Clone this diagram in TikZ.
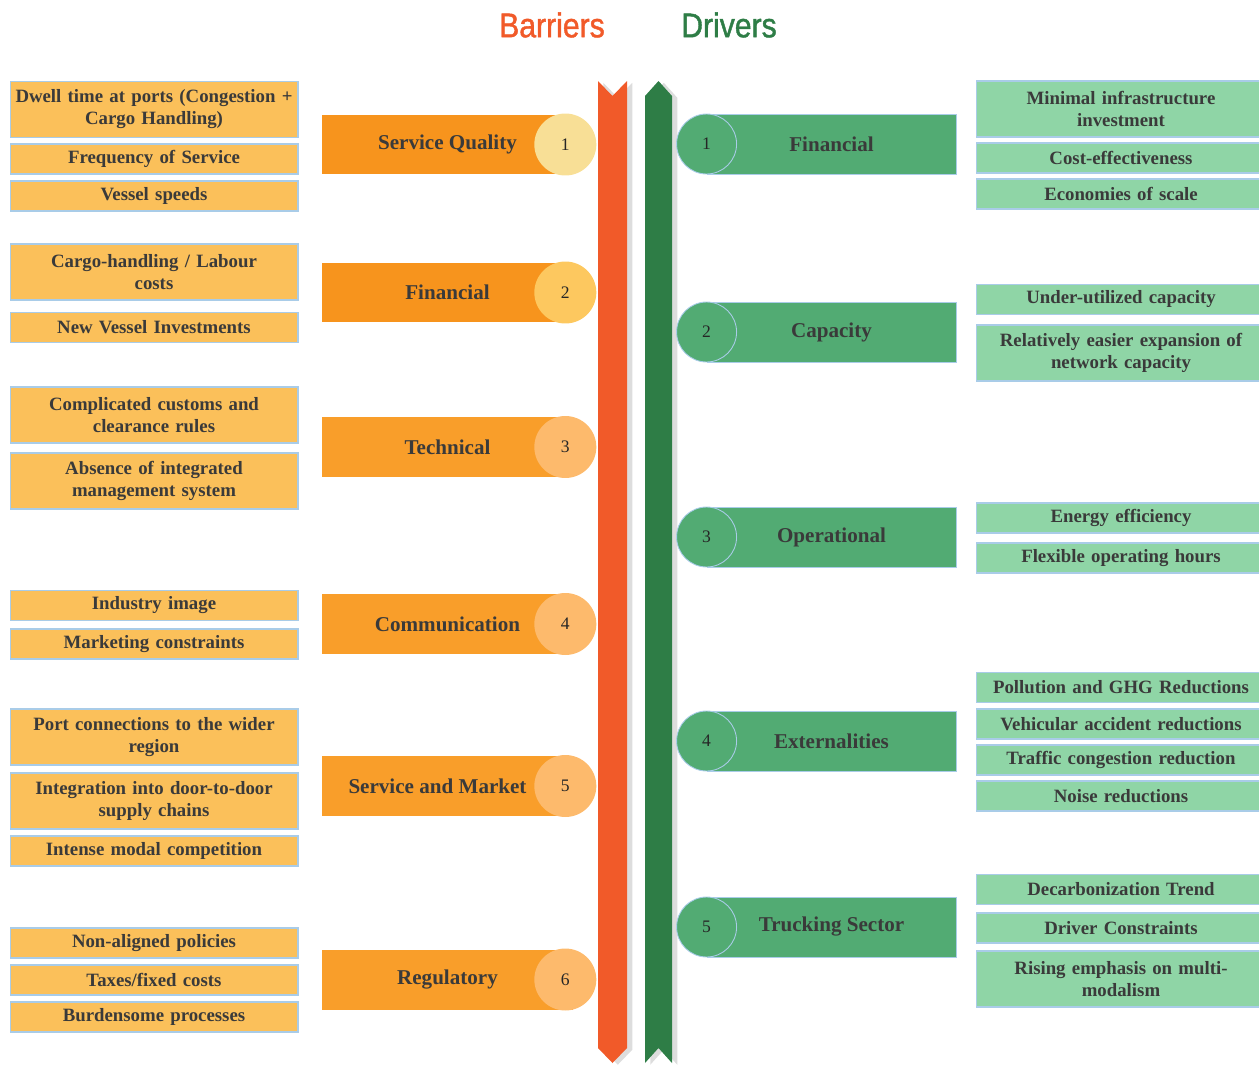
\documentclass[tikz,border=0pt]{standalone}
\usepackage{fontspec}
\setmainfont{Liberation Serif}
\newfontfamily\titlefont[FakeStretch=0.88, FakeBold=1.2]{Liberation Sans}
\usetikzlibrary{positioning, shadows}

\definecolor{barred}{HTML}{F15A29}
\definecolor{drivgreen}{HTML}{2E7D46}
\definecolor{orA}{HTML}{F7941D}
\definecolor{orB}{HTML}{F99E2A}
\definecolor{circA}{HTML}{F8DF96}
\definecolor{circB}{HTML}{FDC85F}
\definecolor{circC}{HTML}{FDBA6C}
\definecolor{leftfill}{HTML}{FBC05A}
\definecolor{rightfill}{HTML}{8FD5A6}
\definecolor{drivfill}{HTML}{52AB73}
\definecolor{edgeblue}{HTML}{A9CCE8}
\definecolor{txtgray}{HTML}{3A3A3A}

\begin{document}
\begin{tikzpicture}[x=0.02cm, y=-0.02cm,
    lbox/.style={rectangle,
        draw=edgeblue, % Box edge.
        line width=0.6pt,
        fill=leftfill, % Box fill.
        text=txtgray,
        inner sep=0pt,
        minimum width=5.76cm,
        text width=5.74cm,
        align=center,
        font=\bfseries\fontsize{10.7}{12.5}\selectfont},
    rbox/.style={lbox, fill=rightfill, minimum width=5.8cm},
    barbox/.style={rectangle,
        inner sep=0pt,
        minimum width=5.02cm,
        minimum height=1.2cm,
        text=txtgray,
        font=\bfseries\fontsize{12}{14}\selectfont},
    drivbox/.style={barbox, fill=drivfill, draw=edgeblue, line width=0.5pt,
        minimum width=4.98cm},
    numcirc/.style={circle,
        inner sep=0pt,
        minimum size=1.24cm,
        text=black!85,
        font=\fontsize{10}{11}\selectfont},
    ribbon/.style={drop shadow={shadow xshift=3pt, shadow yshift=-1pt,
        opacity=0.22, fill=black!60}},
    title/.style={font=\titlefont\fontsize{19.5}{22}\selectfont}]

        \useasboundingbox (0,0) rectangle (1259,1065);

        % Titles.
        \node[title, text=barred] (barriers) at (552,25) {Barriers};
        \node[title, text=drivgreen] (drivers) at (729,25) {Drivers};

        % Ribbons.
        \fill[barred, ribbon] (598,81) -- (612.5,96) -- (627,81) -- (627,1048)
            -- (612.5,1063) -- (598,1048) -- cycle;
        \fill[drivgreen, ribbon] (645,96) -- (658.5,81) -- (672,96) -- (672,1063)
            -- (658.5,1048) -- (645,1063) -- cycle;

        % Barrier categories.
        \foreach \name/\yc/\txt/\bar/\circ/\n in {bqual/144.5/Service Quality/orA/circA/1,
            bfin/292.5/Financial/orA/circB/2, btech/447/Technical/orB/circC/3,
            bcomm/624/Communication/orB/circC/4,
            bserv/786/{Service and Market\hspace*{0.4cm}}/orB/circC/5,
            breg/979.5/Regulatory/orB/circC/6}
        {
        \node[barbox, fill=\bar] (\name) at (447.5,\yc) {\txt};
        \node[numcirc, fill=\circ] (\name-num) at ([xshift=-0.16cm]\name.east) {\n};
        }

        % Driver categories.
        \foreach \name/\yc/\txt/\n in {dfin/144/Financial/1, dcap/332/Capacity/2,
            dop/537/Operational/3, dext/741/Externalities/4, dtruck/927/Trucking Sector/5}
        {
        \node[drivbox] (\name) at (831.5,\yc) {\txt};
        \node[numcirc, fill=drivfill, draw=edgeblue, line width=0.5pt, minimum size=1.2cm]
            (\name-num) at (\name.west) {\n};
        }

        % Barrier items.
        \foreach \name/\yc/\h/\txt in {
            ldwell/109.5/1.12/{Dwell time at ports (Congestion +\\ Cargo Handling)},
            lfreq/159/0.6/{Frequency of Service},
            lspeed/196/0.6/{Vessel speeds},
            llabour/272/1.12/{Cargo-handling / Labour\\ costs},
            lvessel/327.5/0.6/{New Vessel Investments},
            lcustoms/415/1.12/{Complicated customs and\\ clearance rules},
            lmanage/481/1.12/{Absence of integrated\\ management system},
            limage/605.5/0.6/{Industry image},
            lmarket/644/0.6/{Marketing constraints},
            lport/737/1.12/{Port connections to the wider\\ region},
            ldoor/801/1.12/{Integration into door-to-door\\ supply chains},
            lmodal/851/0.6/{Intense modal competition},
            lpolicy/943/0.6/{Non-aligned policies},
            ltax/980/0.6/{Taxes/fixed costs},
            lproc/1017/0.6/{Burdensome processes}}
        \node[lbox, minimum height=\h cm] (\name) at (154,\yc) {\txt};

        % Driver items.
        \foreach \name/\yc/\h/\txt in {
            rinfra/109/1.12/{Minimal infrastructure\\ investment},
            rcost/158/0.6/{Cost-effectiveness},
            rscale/194/0.6/{Economies of scale},
            runder/299.5/0.6/{Under-utilized capacity},
            rexpand/353/1.12/{Relatively easier expansion of\\ network capacity},
            renergy/518/0.6/{Energy efficiency},
            rhours/558/0.6/{Flexible operating hours},
            rghg/687.5/0.6/{Pollution and GHG Reductions},
            raccid/724/0.6/{Vehicular accident reductions},
            rtraffic/760/0.6/{Traffic congestion reduction},
            rnoise/796/0.6/{Noise reductions},
            rdecarb/889.5/0.6/{Decarbonization Trend},
            rdriver/928/0.6/{Driver Constraints},
            rmulti/979/1.12/{Rising emphasis on multi-\\ modalism}}
        \node[rbox, minimum height=\h cm] (\name) at (1121,\yc) {\txt};
    \end{tikzpicture}
\end{document}
